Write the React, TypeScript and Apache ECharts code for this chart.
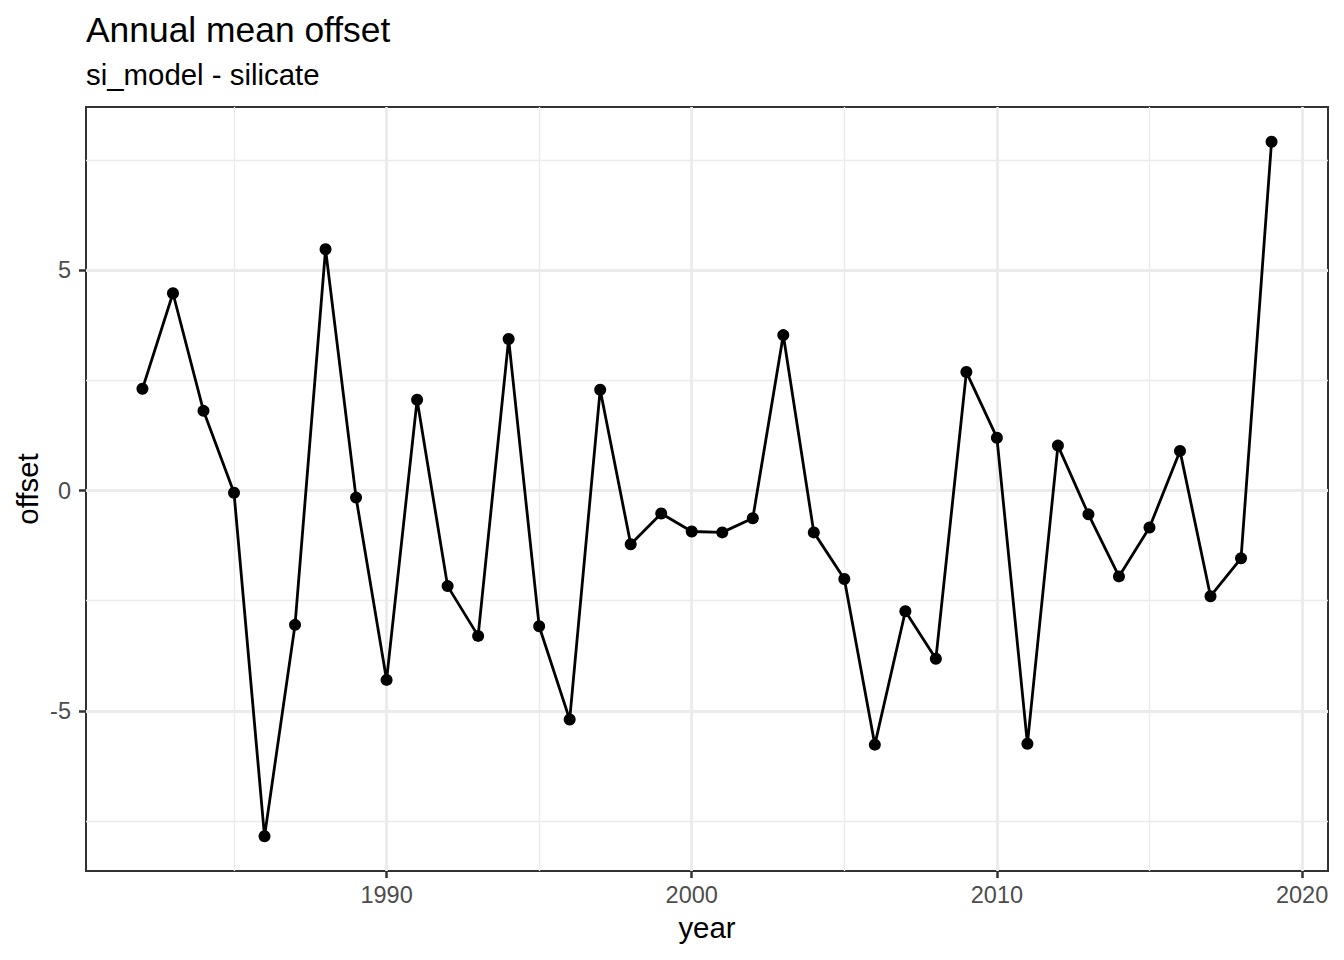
import React, { useEffect, useRef } from "react";
import * as echarts from "echarts";

const years = [
  1982, 1983, 1984, 1985, 1986, 1987, 1988, 1989, 1990, 1991, 1992, 1993, 1994,
  1995, 1996, 1997, 1998, 1999, 2000, 2001, 2002, 2003, 2004, 2005, 2006, 2007,
  2008, 2009, 2010, 2011, 2012, 2013, 2014, 2015, 2016, 2017, 2018, 2019,
];
const offsets = [
  2.31, 4.48, 1.81, -0.05, -7.85, -3.05, 5.48, -0.16, -4.3, 2.06, -2.17, -3.3,
  3.44, -3.08, -5.2, 2.29, -1.22, -0.52, -0.93, -0.95, -0.63, 3.53, -0.95,
  -2.01, -5.77, -2.74, -3.82, 2.69, 1.2, -5.75, 1.02, -0.54, -1.95, -0.84, 0.9,
  -2.4, -1.54, 7.92,
];
const xMajorTicks = [1990, 2000, 2010, 2020];
const xMinorTicks = [1985, 1995, 2005, 2015];
const yMajorTicks = [-5, 0, 5];
const yMinorTicks = [-7.5, -2.5, 2.5, 7.5];

const titleText = "Annual mean offset";
const subtitleText = "si_model - silicate";
const xTitle = "year";
const yTitle = "offset";

const FONT = "'Liberation Sans', Arial, Helvetica, sans-serif";

function expand(vals: number[]): [number, number] {
  const lo = Math.min(...vals);
  const hi = Math.max(...vals);
  const pad = (hi - lo) * 0.05;
  return [lo - pad, hi + pad];
}

export default function App() {
  const ref = useRef<HTMLDivElement>(null);

  useEffect(() => {
    if (!ref.current) return;
    const chart = echarts.init(ref.current, undefined, { renderer: "svg" });
    const [xMin, xMax] = expand(years);
    const [yMin, yMax] = expand(offsets);

    const majorSplit = { show: true, lineStyle: { color: "#EBEBEB", width: 2.8 } };
    const minorSplit = { show: true, lineStyle: { color: "#EBEBEB", width: 1.4 } };

    chart.setOption({
      animation: false,
      backgroundColor: "#FFFFFF",
      grid: {
        left: 86,
        right: 16,
        top: 107,
        bottom: 89,
        show: true,
        borderColor: "#333333",
        borderWidth: 2,
        backgroundColor: "transparent",
        containLabel: false,
      },
      graphic: [
        {
          type: "text",
          x: 86,
          y: 29.5,
          style: {
            text: titleText,
            font: `35.4px ${FONT}`,
            fill: "#000000",
            textAlign: "left",
            textVerticalAlign: "middle",
          },
        },
        {
          type: "text",
          x: 86,
          y: 74.5,
          style: {
            text: subtitleText,
            font: `29.4px ${FONT}`,
            fill: "#000000",
            textAlign: "left",
            textVerticalAlign: "middle",
          },
        },
        {
          type: "text",
          x: 707,
          y: 927.5,
          style: {
            text: xTitle,
            font: `29.4px ${FONT}`,
            fill: "#000000",
            textAlign: "center",
            textVerticalAlign: "middle",
          },
        },
        {
          type: "text",
          x: 27,
          y: 489,
          rotation: Math.PI / 2,
          style: {
            text: yTitle,
            font: `29.4px ${FONT}`,
            fill: "#000000",
            textAlign: "center",
            textVerticalAlign: "middle",
          },
        },
      ],
      xAxis: [
        {
          type: "value",
          min: xMin,
          max: xMax,
          position: "bottom",
          axisLine: { show: false, onZero: false },
          axisTick: {
            show: true,
            length: 7,
            customValues: xMajorTicks,
            lineStyle: { color: "#333333", width: 2.5 },
          },
          axisLabel: {
            show: true,
            customValues: xMajorTicks,
            formatter: (v: number) => String(v),
            margin: 12,
            color: "#4D4D4D",
            fontSize: 23.5,
            fontFamily: FONT,
          },
          splitLine: majorSplit,
        },
        {
          type: "value",
          min: xMin,
          max: xMax,
          position: "top",
          axisLine: { show: false, onZero: false },
          axisTick: { show: false, customValues: xMinorTicks },
          axisLabel: { show: false, customValues: xMinorTicks },
          splitLine: minorSplit,
        },
      ],
      yAxis: [
        {
          type: "value",
          min: yMin,
          max: yMax,
          position: "left",
          axisLine: { show: false, onZero: false },
          axisTick: {
            show: true,
            length: 7,
            customValues: yMajorTicks,
            lineStyle: { color: "#333333", width: 2.5 },
          },
          axisLabel: {
            show: true,
            customValues: yMajorTicks,
            formatter: (v: number) => String(v),
            margin: 15,
            color: "#4D4D4D",
            fontSize: 23.5,
            fontFamily: FONT,
          },
          splitLine: majorSplit,
        },
        {
          type: "value",
          min: yMin,
          max: yMax,
          position: "right",
          axisLine: { show: false, onZero: false },
          axisTick: { show: false, customValues: yMinorTicks },
          axisLabel: { show: false, customValues: yMinorTicks },
          splitLine: minorSplit,
        },
      ],
      series: [
        {
          type: "line",
          xAxisIndex: 0,
          yAxisIndex: 0,
          data: years.map((y, i) => [y, offsets[i]]),
          symbol: "circle",
          symbolSize: 12,
          showSymbol: true,
          itemStyle: { color: "#000000" },
          lineStyle: { color: "#000000", width: 2.8 },
          z: 5,
        },
      ],
    });

    return () => chart.dispose();
  }, []);

  return (
    <div
      ref={ref}
      style={{ position: "absolute", left: 0, top: 0, width: 1344, height: 960 }}
    />
  );
}
